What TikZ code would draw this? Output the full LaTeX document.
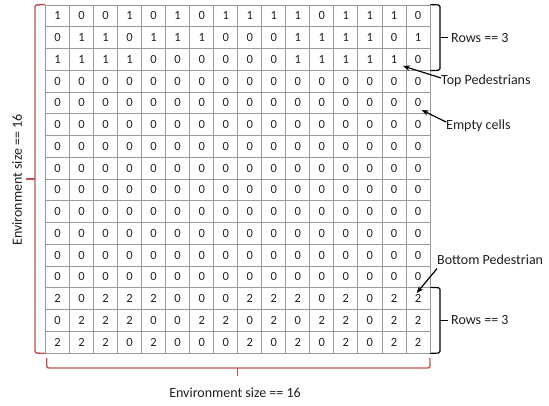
\documentclass[tikz,border=0pt]{standalone}
\usepackage{fontspec}
\setmainfont{Carlito}
\usetikzlibrary{arrows.meta}
\definecolor{brred}{HTML}{C0504D}
\definecolor{gridgray}{HTML}{9A9A9A}
\definecolor{txt}{HTML}{202020}
\begin{document}
\begin{tikzpicture}[x=1pt,y=-1pt,
  cell/.style={draw=gridgray, line width=0.8pt, minimum width=24.03pt, minimum height=21.75pt,
    inner sep=0pt, text=txt, font=\fontsize{12.5}{14}\selectfont},
  lbl/.style={inner sep=0pt, anchor=west, text=txt, font=\fontsize{14}{16}\selectfont},
  redbrace/.style={draw=brred, line width=1.4pt, rounded corners=2pt},
  blkbrace/.style={draw=black, line width=1.2pt, rounded corners=1.5pt},
  arr/.style={draw=black, line width=1.2pt, -{Stealth[length=7pt,width=5.5pt]}}]
\useasboundingbox[fill=white] (0,0) rectangle (549,405);

\foreach \row [count=\r] in {
  {1,0,0,1,0,1,0,1,1,1,1,0,1,1,1,0},
  {0,1,1,0,1,1,1,0,0,0,1,1,1,1,0,1},
  {1,1,1,1,0,0,0,0,0,0,1,1,1,1,1,0},
  {0,0,0,0,0,0,0,0,0,0,0,0,0,0,0,0},
  {0,0,0,0,0,0,0,0,0,0,0,0,0,0,0,0},
  {0,0,0,0,0,0,0,0,0,0,0,0,0,0,0,0},
  {0,0,0,0,0,0,0,0,0,0,0,0,0,0,0,0},
  {0,0,0,0,0,0,0,0,0,0,0,0,0,0,0,0},
  {0,0,0,0,0,0,0,0,0,0,0,0,0,0,0,0},
  {0,0,0,0,0,0,0,0,0,0,0,0,0,0,0,0},
  {0,0,0,0,0,0,0,0,0,0,0,0,0,0,0,0},
  {0,0,0,0,0,0,0,0,0,0,0,0,0,0,0,0},
  {0,0,0,0,0,0,0,0,0,0,0,0,0,0,0,0},
  {2,0,2,2,2,0,0,0,2,2,2,0,2,0,2,2},
  {0,2,2,2,0,0,2,2,0,2,0,2,2,0,2,2},
  {2,2,2,0,2,0,0,0,2,0,2,0,2,0,2,2}} {
  \foreach \v [count=\c] in \row {
    \node[cell] (c\r-\c) at ({45.5+24.03*(\c-0.5)}, {5+21.75*(\r-0.5)}) {\v};
  }
}

% left red brace
\coordinate (lbT) at (35,5);
\coordinate (lbB) at (35,353);
\coordinate (lbM) at (35,179);
\coordinate (lbTip) at (26,179);
\draw[redbrace] (c1-1.north west) -- (lbT) -- (lbB) -- (c16-1.south west);
\draw[redbrace] (lbM) -- (lbTip);
\node[inner sep=0pt, text=txt, font=\fontsize{14}{16}\selectfont, rotate=90] (envL) at (17,180) {Environment size == 16};

% bottom red brace
\coordinate (bbL0) at (46.7,358);
\coordinate (bbL) at (46.7,368);
\coordinate (bbR) at (430,368);
\coordinate (bbR0) at (430,358);
\coordinate (bbM) at (237.7,368);
\coordinate (bbTip) at (237.7,376);
\draw[redbrace] (bbL0) -- (bbL) -- (bbR) -- (bbR0);
\draw[redbrace] (bbM) -- (bbTip);
\node[inner sep=0pt, text=txt, font=\fontsize{14}{16}\selectfont] (envB) at (235,393) {Environment size == 16};

% right black braces
\coordinate (rtT) at (440,5);
\coordinate (rtB) at (440,70.25);
\coordinate (rtM) at (440,37.6);
\coordinate (rtTip) at (448,37.6);
\draw[blkbrace] (c1-16.north east) -- (rtT) -- (rtB) -- (c3-16.south east);
\draw[blkbrace] (rtM) -- (rtTip);
\node[lbl] (rowsT) at (451,37.6) {Rows == 3};

\coordinate (rbT) at (440,287.75);
\coordinate (rbB) at (440,353);
\coordinate (rbM) at (440,320.4);
\coordinate (rbTip) at (448,320.4);
\draw[blkbrace] (c14-16.north east) -- (rbT) -- (rbB) -- (c16-16.south east);
\draw[blkbrace] (rbM) -- (rbTip);
\node[lbl] (rowsB) at (451,320.4) {Rows == 3};

% annotations
\node[lbl] (toped) at (441,81) {Top Pedestrians};
\node[lbl] (empty) at (446,126) {Empty cells};
\node[lbl] (botped) at (437,260) {Bottom Pedestrian};
\coordinate (tipTop) at (403,66);
\coordinate (tipEmpty) at (421.7,110);
\coordinate (tipBot) at (416.7,293);
\draw[arr] ([yshift=3pt]toped.west) -- (tipTop);
\draw[arr] ([yshift=4pt]empty.west) -- (tipEmpty);
\draw[arr] ([shift={(0pt,-3.5pt)}]botped.south west) -- (tipBot);
\end{tikzpicture}
\end{document}
